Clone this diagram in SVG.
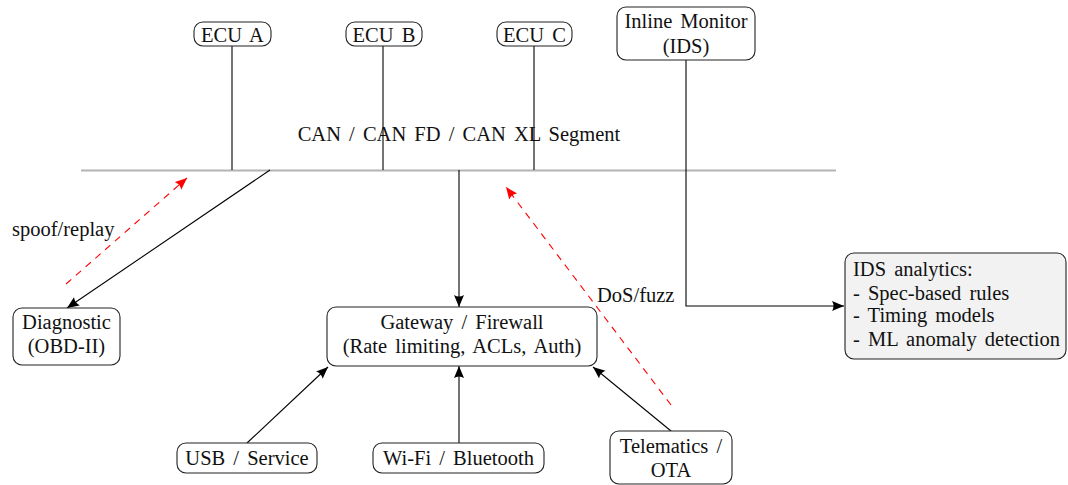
<svg xmlns="http://www.w3.org/2000/svg" width="1068" height="485" viewBox="0 0 1068 485">
<defs>
<style>
text{font-family:"Liberation Serif","Times New Roman",serif;font-size:20.5px;fill:#111;word-spacing:3px}
.c{text-anchor:middle}
.box{fill:#fff;stroke:#222;stroke-width:1.1}
.ln{stroke:#000;stroke-width:1.1;fill:none}
.atk{stroke:#f00;stroke-width:1.1;fill:none;stroke-dasharray:7,6}
</style>
<marker id="ah" markerUnits="userSpaceOnUse" markerWidth="14" markerHeight="12" refX="12" refY="5" orient="auto">
<path d="M0,0 L12,5 L0,10 Q3,5 0,0 z" fill="#000"/>
</marker>
<marker id="ahr" markerUnits="userSpaceOnUse" markerWidth="14" markerHeight="12" refX="12" refY="5" orient="auto">
<path d="M0,0 L12,5 L0,10 Q3,5 0,0 z" fill="#f00"/>
</marker>
</defs>
<rect width="1068" height="485" fill="#fff"/>
<g id="bus">
<line x1="81" y1="170.5" x2="836" y2="170.5" stroke="#b3b3b3" stroke-width="2"/>
<text class="c" x="459" y="141">CAN / CAN FD / CAN XL Segment</text>
</g>
<g id="connectors">
<line class="ln" x1="232" y1="46" x2="232" y2="170"/>
<line class="ln" x1="383" y1="46" x2="383" y2="170"/>
<line class="ln" x1="534" y1="46" x2="534" y2="170"/>
<polyline class="ln" points="686,60 686,306 844,306" marker-end="url(#ah)"/>
<line class="ln" x1="270" y1="170" x2="67" y2="308" marker-end="url(#ah)"/>
<line class="ln" x1="459" y1="170" x2="459" y2="307" marker-end="url(#ah)"/>
<line class="ln" x1="247" y1="443" x2="328" y2="367" marker-end="url(#ah)"/>
<line class="ln" x1="459" y1="443" x2="459" y2="366" marker-end="url(#ah)"/>
<line class="ln" x1="671" y1="431" x2="593" y2="367" marker-end="url(#ah)"/>
<line class="atk" x1="66" y1="284" x2="187" y2="178" marker-end="url(#ahr)"/>
<line class="atk" x1="671" y1="405" x2="506" y2="187" marker-end="url(#ahr)"/>
<text x="12" y="236">spoof/replay</text>
<text x="597" y="302">DoS/fuzz</text>
</g>
<g id="ecuA"><rect class="box" x="194" y="22" width="77" height="24" rx="9"/><text class="c" x="232.5" y="42">ECU A</text></g>
<g id="ecuB"><rect class="box" x="346" y="22" width="76" height="24" rx="9"/><text class="c" x="384" y="42">ECU B</text></g>
<g id="ecuC"><rect class="box" x="497" y="22" width="75" height="24" rx="9"/><text class="c" x="534.5" y="42">ECU C</text></g>
<g id="monitor"><rect class="box" x="617" y="7" width="138" height="53" rx="9"/><text class="c" x="686" y="28">Inline Monitor</text><text class="c" x="686" y="53">(IDS)</text></g>
<g id="analytics"><rect class="box" x="845" y="253" width="221" height="106" rx="9" fill="#f2f2f2" style="fill:#f2f2f2"/>
<text x="853" y="276">IDS analytics:</text><text x="853" y="300">- Spec-based rules</text><text x="853" y="322">- Timing models</text><text x="853" y="346">- ML anomaly detection</text></g>
<g id="diagnostic"><rect class="box" x="13" y="308" width="107" height="57" rx="9"/><text class="c" x="66.5" y="329">Diagnostic</text><text class="c" x="66.5" y="353">(OBD-II)</text></g>
<g id="gateway"><rect class="box" x="327" y="307" width="270" height="59" rx="9"/><text class="c" x="462" y="329">Gateway / Firewall</text><text class="c" x="462" y="353">(Rate limiting, ACLs, Auth)</text></g>
<g id="usb"><rect class="box" x="177" y="443" width="140" height="30" rx="9"/><text class="c" x="247" y="465">USB / Service</text></g>
<g id="wifi"><rect class="box" x="373" y="443" width="171" height="30" rx="9"/><text class="c" x="458.5" y="465">Wi-Fi / Bluetooth</text></g>
<g id="telematics"><rect class="box" x="610" y="431" width="122" height="53" rx="9"/><text class="c" x="671" y="453">Telematics /</text><text class="c" x="671" y="477">OTA</text></g>
</svg>
